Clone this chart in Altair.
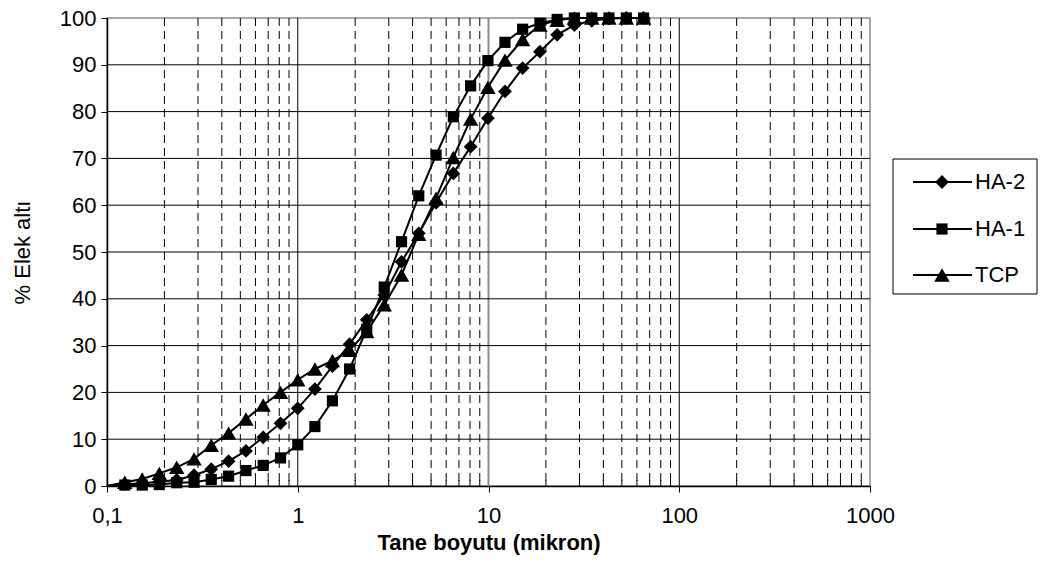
import altair as alt
import pandas as pd

# ---- data ----
sizes = [0.124, 0.153, 0.188, 0.232, 0.286, 0.352, 0.434, 0.535, 0.659, 0.812,
         1.0, 1.23, 1.52, 1.87, 2.30, 2.84, 3.50, 4.31, 5.31, 6.54,
         8.06, 9.93, 12.2, 15.1, 18.6, 22.9, 28.2, 34.8, 42.8, 52.8, 65.0]
ha2 = [0.4, 0.6, 0.9, 1.3, 2.3, 3.6, 5.3, 7.5, 10.4, 13.4,
       16.6, 20.7, 25.6, 30.3, 35.5, 40.8, 47.9, 54.0, 60.5, 66.8,
       72.5, 78.6, 84.3, 89.3, 92.8, 96.4, 98.5, 99.4, 99.9, 100.0, 100.0]
ha1 = [0.2, 0.2, 0.3, 0.7, 0.8, 1.4, 2.1, 3.3, 4.4, 6.0,
       8.8, 12.7, 18.2, 25.0, 33.5, 42.5, 52.2, 62.0, 70.7, 78.9,
       85.5, 90.9, 94.8, 97.6, 98.9, 99.7, 100.0, 100.0, 100.0, 100.0, 100.0]
tcp = [0.8, 1.5, 2.7, 4.0, 5.8, 8.7, 11.3, 14.3, 17.3, 20.0,
       22.7, 25.0, 26.8, 29.0, 33.0, 38.7, 45.1, 53.8, 61.5, 70.2,
       78.4, 85.2, 91.0, 95.4, 98.5, 99.5, 100.0, 100.0, 100.0, 100.0, 100.0]
line_start_size = 0.1
line_start_value = 0.0

series_names = ["HA-2", "HA-1", "TCP"]
series_values = [ha2, ha1, tcp]
shapes = ["diamond", "square", "triangle-up"]
marker_sizes = [190, 125, 240]
draw_order = ["TCP", "HA-2", "HA-1"]

x_tick_values = [0.1, 1, 10, 100, 1000]
y_tick_values = list(range(0, 101, 10))

# ---- table ----
rows = []
for name, vals in zip(series_names, series_values):
    rows.append({"series": name, "size": line_start_size, "value": line_start_value, "marker": False})
    for s, v in zip(sizes, vals):
        rows.append({"series": name, "size": s, "value": v, "marker": True})
df = pd.DataFrame(rows)

minor_vals = [k * 10.0 ** e for e in range(-1, 3) for k in range(2, 10)]
minor_df = pd.DataFrame({"v": minor_vals})
major_df = pd.DataFrame({"v": [1, 10, 100], "c": ["#000000", "#8c8c8c", "#000000"], "w": [1, 2, 1]})
hgrid_df = pd.DataFrame({"v": list(range(10, 100, 10))})

W, H = 763, 468
FONT = "Liberation Sans"
FS = 22

xscale = alt.Scale(type="log", domain=[0.1, 1000], nice=False)
yscale = alt.Scale(domain=[0, 100], nice=False)

x_axis = alt.Axis(values=x_tick_values,
                  labelExpr="datum.value < 0.5 ? '0,1' : format(datum.value, 'd')",
                  grid=False, tickSize=6, labelPadding=13, labelFlush=False,
                  labelOverlap=False, title="Tane boyutu (mikron)",
                  titleFontWeight="bold", titleFontSize=FS, titleY=56,
                  titleBaseline="middle")
y_axis = alt.Axis(values=y_tick_values, grid=False, tickSize=6, labelPadding=5,
                  title="% Elek altı", titleFontWeight="normal", titleFontSize=FS,
                  titleAngle=-90, titleX=-85, titleY=H / 2, titleBaseline="middle",
                  titleAlign="center")


def X(field):
    return alt.X(field, type="quantitative", scale=xscale, axis=x_axis)


def Y(field):
    return alt.Y(field, type="quantitative", scale=yscale, axis=y_axis)


minor_grid = alt.Chart(minor_df).mark_rule(color="#000000", strokeWidth=1, strokeDash=[8, 5]).encode(
    x=X("v"), y=alt.value(0), y2=alt.value(H))
major_grid = alt.Chart(major_df).mark_rule().encode(
    x=X("v"), y=alt.value(0), y2=alt.value(H),
    color=alt.Color("c:N", scale=None), strokeWidth=alt.StrokeWidth("w:Q", scale=None))
h_grid = alt.Chart(hgrid_df).mark_rule(color="#000000", strokeWidth=1).encode(
    y=Y("v"), x=alt.value(0), x2=alt.value(W))
minor_ticks = alt.Chart(minor_df).mark_rule(color="#000000", strokeWidth=1).encode(
    x=X("v"), y=alt.value(H), y2=alt.value(H - 6))

lines = alt.Chart(df).mark_line(color="black", strokeWidth=2).encode(
    x=X("size"), y=Y("value"), detail="series:N", order="size:Q")

style = {n: (s, m) for n, s, m in zip(series_names, shapes, marker_sizes)}
point_layers = []
for name in draw_order:
    shp, ms = style[name]
    point_layers.append(
        alt.Chart(df).transform_filter(
            (alt.datum.series == name) & alt.datum.marker
        ).mark_point(filled=True, color="black", opacity=1, shape=shp, size=ms, strokeWidth=0).encode(
            x=X("size"), y=Y("value"))
    )

# ---- legend (drawn by hand, pixel layout) ----
one = pd.DataFrame({"a": [0]})
LX0, LX1, LY0, LY1 = 786, 930, 141, 276
legend_layers = [alt.Chart(one).mark_rect(fill="white", stroke="black", strokeWidth=1).encode(
    x=alt.value(LX0), x2=alt.value(LX1), y=alt.value(LY0), y2=alt.value(LY1))]
row_y = [164, 211, 257]
for name, shp, ms, ry in zip(series_names, shapes, marker_sizes, row_y):
    legend_layers.append(alt.Chart(one).mark_rule(color="black", strokeWidth=2).encode(
        x=alt.value(806), x2=alt.value(865), y=alt.value(ry)))
    legend_layers.append(alt.Chart(one).mark_point(filled=True, color="black", opacity=1,
                                                   shape=shp, size=ms, strokeWidth=0).encode(
        x=alt.value(835), y=alt.value(ry)))
    legend_layers.append(alt.Chart(one).mark_text(align="left", baseline="middle", fontSize=FS,
                                                  font=FONT, color="black").encode(
        x=alt.value(868), y=alt.value(ry), text=alt.value(name)))

chart = alt.layer(minor_grid, major_grid, h_grid, minor_ticks, lines, *point_layers,
                  *legend_layers).properties(
    width=W, height=H,
    autosize=alt.AutoSizeParams(type="none"),
    padding={"left": 107, "top": 18, "right": 177, "bottom": 98},
).configure(font=FONT, background="white").configure_view(
    stroke="#8c8c8c", strokeWidth=1.5
).configure_axis(
    domainColor="black", tickColor="black", labelColor="black", titleColor="black",
    labelFont=FONT, titleFont=FONT, labelFontSize=FS, domainWidth=1.5
)

chart.save("out.html", embed_options={"renderer": "svg", "actions": False})
